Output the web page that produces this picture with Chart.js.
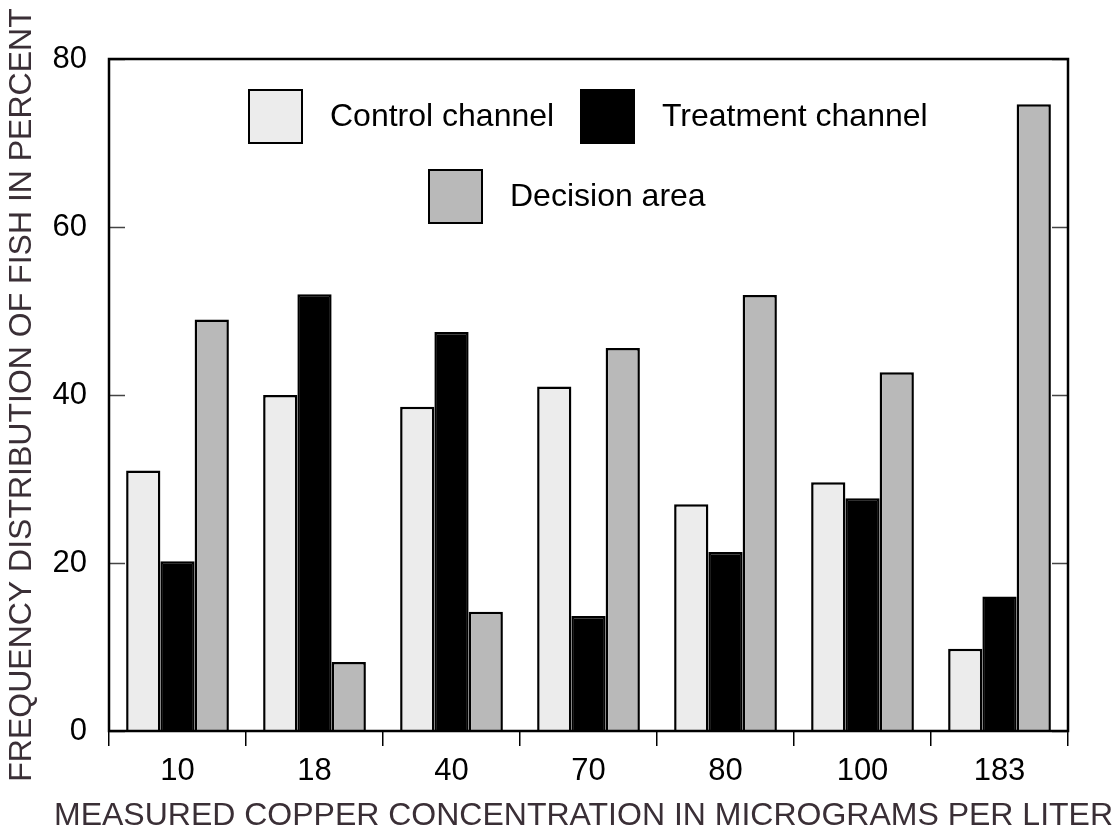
<!DOCTYPE html>
<html>
<head>
<meta charset="utf-8">
<script src="https://cdn.jsdelivr.net/npm/chart.js@4"></script>
<style>
  html, body { margin: 0; padding: 0; background: #fff; }
  #wrap { width: 1115px; height: 833px; position: relative; }
</style>
</head>
<body>
<div id="wrap"><canvas id="myChart"></canvas></div>
<script>
// copper concentration (micrograms per liter)
const categories = ['10', '18', '40', '70', '80', '100', '183'];
const seriesNames = ['Control channel', 'Treatment channel', 'Decision area'];
const controlChannel = [31, 40, 38.6, 41, 27, 29.6, 9.8];
const treatmentChannel = [20.2, 52, 47.5, 13.7, 21.3, 27.7, 16];
const decisionArea = [49, 8.2, 14.2, 45.6, 51.9, 42.7, 74.6];
const yTicks = [0, 20, 40, 60, 80];
const xTitle = 'MEASURED COPPER CONCENTRATION IN MICROGRAMS PER LITER';
const yTitle = 'FREQUENCY DISTRIBUTION OF FISH IN PERCENT';

const fills = ['#ececec', '#000000', '#b9b9b9'];
const FONT = '"Liberation Sans", Arial, Helvetica, sans-serif';

// frame, inner y ticks, axis titles and the legend inside the plot
// (titles drawn here because Chart.js squeezes them to the plot width)
const framePlugin = {
    id: 'frame',
    afterDraw(chart) {
        const c = chart.ctx;
        const a = chart.chartArea;
        const y = chart.scales.y;
        c.save();
        // inner ticks left and right
        c.strokeStyle = '#444';
        c.lineWidth = 1.5;
        yTicks.forEach(v => {
            const py = Math.round(y.getPixelForValue(v)) + 0.5;
            c.beginPath();
            c.moveTo(a.left, py); c.lineTo(a.left + 16, py);
            c.moveTo(a.right - 16, py); c.lineTo(a.right, py);
            c.stroke();
        });
        // box
        c.strokeStyle = '#000';
        c.lineWidth = 2.5;
        c.strokeRect(a.left, a.top, a.right - a.left, a.bottom - a.top);

        // axis titles
        c.fillStyle = '#3a2f36';
        c.textAlign = 'center';
        c.textBaseline = 'middle';
        c.font = '32px ' + FONT;
        c.fillText(xTitle, (a.left + a.right) / 2 - 5, 816);
        c.save();
        c.translate(22, (a.top + a.bottom) / 2);
        c.rotate(-Math.PI / 2);
        c.font = '32px ' + FONT;
        c.fillText(yTitle, 0, 0);
        c.restore();

        // legend
        const items = [
            { x: a.left + 140, y: a.top + 31 },
            { x: a.left + 472, y: a.top + 31 },
            { x: a.left + 320, y: a.top + 111 }
        ];
        c.font = '32px ' + FONT;
        c.textAlign = 'left';
        items.forEach((it, i) => {
            c.fillStyle = fills[i];
            c.fillRect(it.x, it.y, 53, 53);
            c.strokeStyle = '#000';
            c.lineWidth = 2;
            c.strokeRect(it.x, it.y, 53, 53);
            c.fillStyle = '#000';
            c.fillText(seriesNames[i], it.x + 81, it.y + 27);
        });
        c.restore();
    }
};

const ctx = document.getElementById('myChart').getContext('2d');
const myChart = new Chart(ctx, {
    type: 'bar',
    data: {
        labels: categories,
        datasets: [controlChannel, treatmentChannel, decisionArea].map((d, i) => ({
            label: seriesNames[i],
            data: d,
            backgroundColor: fills[i],
            borderColor: '#000',
            borderWidth: 2.5,
            borderSkipped: 'bottom',
            categoryPercentage: 0.75,
            barPercentage: 1.0
        }))
    },
    options: {
        responsive: true,
        maintainAspectRatio: false,
        animation: false,
        layout: { padding: { left: 0, top: 59, right: 47, bottom: 0 } },
        plugins: {
            legend: { display: false },
            tooltip: { enabled: false }
        },
        scales: {
            x: {
                grid: {
                    offset: true,
                    drawOnChartArea: false,
                    drawTicks: true,
                    tickLength: 15,
                    color: '#000',
                    lineWidth: 1.5
                },
                border: { display: false },
                ticks: {
                    color: '#000',
                    font: { family: FONT, size: 31 },
                    padding: 7
                },
                afterFit(s) { s.height = 102; }
            },
            y: {
                min: 0,
                max: 80,
                grid: { display: false },
                border: { display: false },
                afterBuildTicks(s) { s.ticks = yTicks.map(v => ({ value: v })); },
                ticks: {
                    color: '#000',
                    font: { family: FONT, size: 31 },
                    padding: 14
                },
                afterFit(s) { s.width = 109; }
            }
        }
    },
    plugins: [framePlugin]
});
</script>
</body>
</html>
